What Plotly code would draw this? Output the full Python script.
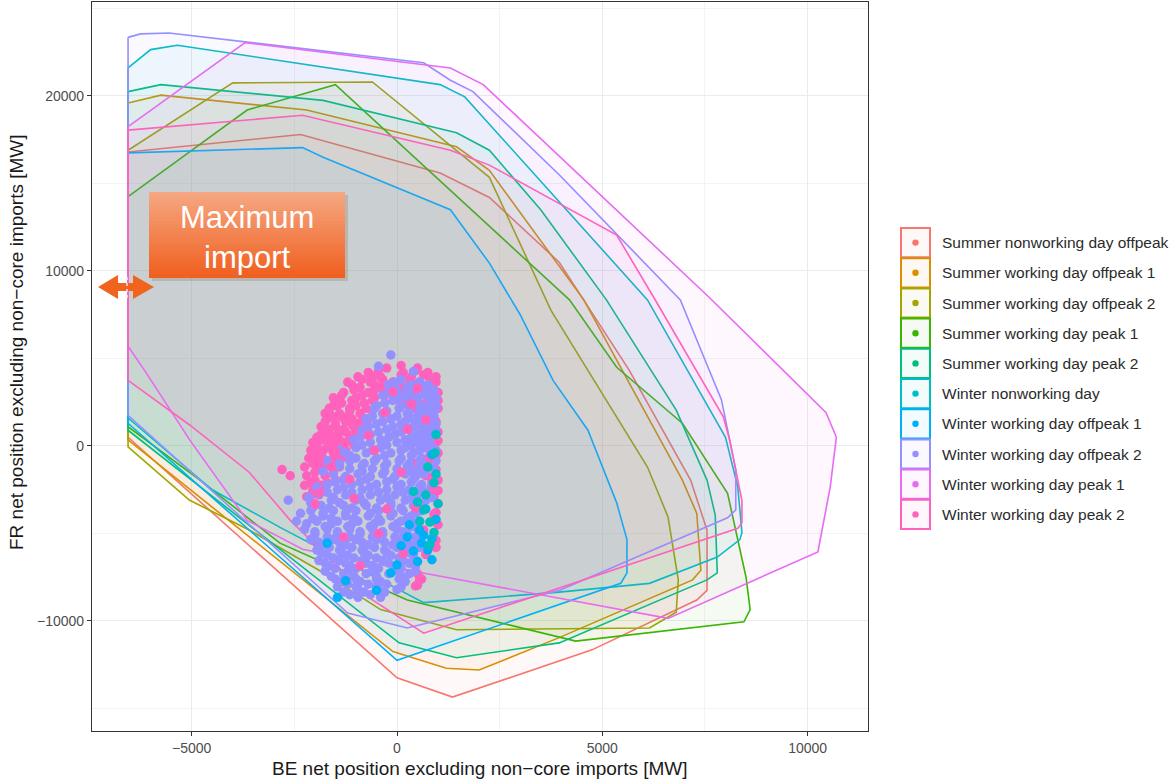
import plotly.graph_objects as go

# ---------------- data ----------------
categories = [
    "Summer nonworking day offpeak", "Summer working day offpeak 1", "Summer working day offpeak 2",
    "Summer working day peak 1", "Summer working day peak 2", "Winter nonworking day",
    "Winter working day offpeak 1", "Winter working day offpeak 2", "Winter working day peak 1",
    "Winter working day peak 2",
]
colors = ["#F8766D", "#D89000", "#A3A500", "#39B600", "#00BF7D",
          "#00BFC4", "#00B0F6", "#9590FF", "#E76BF3", "#FF62BC"]

# feasible-domain hulls (BE net position x, FR net position y) [MW]
sum_nw_off_x = [-6550, -2350, 1050, 2250, 3950, 5650, 7150, 7550, 7550, 7300, 4750, 1350, 0, -6550]
sum_nw_off_y = [16800, 17800, 15600, 14200, 10500, 4350, -1950, -4800, -8250, -8800, -11650, -14350, -13250, 500]

sum_w_off1_x = [-6550, -5750, -2200, 1450, 2250, 4550, 5350, 6950, 7300, 7400, 7200, 3950, 2000, 1200, -100, -6550]
sum_w_off1_y = [19600, 20050, 19200, 17100, 15750, 8350, 4900, -1950, -3850, -7100, -7650, -10950, -12800, -12700, -11750, 350]

sum_w_off2_x = [-6550, -4000, -600, 2250, 3750, 4950, 6100, 6600, 6850, 6800, 6150, 1450, -400, -1900, -3600, -5050, -6550]
sum_w_off2_y = [16900, 20750, 20800, 15350, 7750, 3200, -1200, -4050, -7650, -9500, -10400, -10500, -9350, -7100, -4800, -3100, -50]

sum_w_pk1_x = [-6550, -3650, -1500, 4200, 5350, 6950, 8050, 8500, 8600, 8450, 4350, 250, -2850, -4800, -6550]
sum_w_pk1_y = [14250, 19200, 20650, 8350, 4500, 1300, -2700, -7500, -9350, -10050, -11150, -8800, -5550, -1950, 1100]

sum_w_pk2_x = [-6550, -5750, -1800, 1450, 2250, 3500, 5100, 6800, 7550, 7750, 7800, 7550, 3950, 1450, 50, -6550]
sum_w_pk2_y = [20250, 20650, 19750, 17900, 16900, 13500, 8350, 2050, -1950, -3950, -7250, -7650, -11250, -12100, -11250, 900]

win_nw_x = [-6550, -6000, -5350, 1050, 1650, 6100, 8000, 8300, 8400, 8350, 7800, 6150, 3950, 650, -2850, -4500, -6550]
win_nw_y = [21600, 22650, 22900, 20650, 19950, 8350, 500, -2350, -4950, -5350, -6350, -7850, -8350, -8950, -4650, -2500, 1600]

win_w_off1_x = [-6550, -2300, -1800, 1300, 2250, 3000, 3800, 4650, 5350, 5600, 5600, 5450, 0, -6550]
win_w_off1_y = [16750, 17050, 16500, 13500, 10450, 7500, 3750, 900, -3250, -5350, -7250, -7850, -12250, 1300]

win_w_off2_x = [-6550, -6250, -5550, 650, 1300, 1850, 3950, 6900, 7900, 8250, 8250, 8050, 3950, 250, -1200, -6550]
win_w_off2_y = [23350, 23550, 23600, 21900, 20900, 20250, 15500, 8350, 2650, -1350, -3650, -4100, -8250, -10400, -9550, 1750]

win_w_pk1_x = [-6550, -3700, 1300, 2100, 7600, 10450, 10700, 10550, 10250, 6600, 500, -2300, -3650, -5050, -6100, -6550]
win_w_pk1_y = [18250, 23050, 21600, 20650, 8500, 1900, 500, -2350, -6050, -9850, -7200, -5900, -4250, 350, 4150, 5700]

win_w_pk2_x = [-6550, -2300, 1300, 2250, 5350, 6250, 7950, 8100, 8400, 8400, 8300, 650, -600, -2600, -3600, -5050, -6550]
win_w_pk2_y = [18050, 18900, 16900, 16050, 12050, 8500, 1650, 350, -3100, -4400, -4700, -10700, -8800, -4250, -1500, 1200, 3750]

hulls = [
    (sum_nw_off_x, sum_nw_off_y), (sum_w_off1_x, sum_w_off1_y), (sum_w_off2_x, sum_w_off2_y),
    (sum_w_pk1_x, sum_w_pk1_y), (sum_w_pk2_x, sum_w_pk2_y), (win_nw_x, win_nw_y),
    (win_w_off1_x, win_w_off1_y), (win_w_off2_x, win_w_off2_y), (win_w_pk1_x, win_w_pk1_y),
    (win_w_pk2_x, win_w_pk2_y),
]

# observed net positions (x, y) [MW]
pts_pk2_under = [
    (-250, 4450), (500, 4450), (100, 4600), (-450, 4300), (450, 4300),
    (-700, 4200), (150, 4200), (750, 4200), (-650, 4050), (100, 4050), (650, 4050),
    (-950, 3950), (-400, 3950), (350, 3950), (950, 3950),
    (-850, 3800), (-350, 3800), (300, 3800), (800, 3800),
    (-1200, 3650), (-650, 3650), (-100, 3650), (550, 3650), (950, 3650),
    (-1100, 3500), (-550, 3500), (50, 3500), (450, 3500), (850, 3500),
    (-900, 3350), (-400, 3350), (200, 3350), (700, 3350),
    (-1050, 3200), (-550, 3200), (100, 3200), (600, 3200),
    (-1300, 3050), (-700, 3050), (-250, 3050), (400, 3050), (1000, 3050),
    (-1350, 2900), (-850, 2900), (-300, 2900), (350, 2900), (800, 2900),
    (-1550, 2750), (-1000, 2750), (-550, 2750), (150, 2750), (950, 2750),
    (-1500, 2600), (-1100, 2600), (-600, 2600), (50, 2600), (500, 2600), (1000, 2600),
    (-1350, 2450), (-800, 2450), (250, 2450), (700, 2450),
    (-1550, 2300), (-1000, 2300), (-500, 2300), (300, 2300), (850, 2300),
    (-1650, 2150), (-1150, 2150), (-750, 2150), (450, 2150), (1000, 2150),
    (-1650, 2000), (-1150, 2000), (-600, 2000), (900, 2000),
    (-1750, 1850), (-1400, 1850), (-900, 1850), (650, 1850),
    (-1550, 1650), (-1350, 1650),
    (-1700, 1550), (-1100, 1550), (-700, 1550),
    (-1750, 1400), (-1250, 1400), (-850, 1400), (950, 1400),
    (-1500, 1250), (-1100, 1250), (-750, 1250), (800, 1250),
    (-1850, 1100), (-1500, 1100), (-1050, 1100), (600, 1100),
    (-1650, 950), (-1300, 950), (-950, 950),
    (-1800, 800), (-1250, 800), (1000, 800),
    (-1850, 650), (-1450, 650), (-1050, 650), (850, 650),
    (-1950, 500), (-1550, 500), (-1150, 500), (500, 500),
    (-1800, 350), (-1400, 350), (-1100, 350),
    (-2050, 200), (-1650, 200), (-1250, 200), (950, 200),
    (-1950, 50), (-1500, 50), (-1050, 50), (850, 50),
    (-1700, -100), (-1300, -100), (700, -100),
    (-2100, -250), (-1800, -250), (-1250, -250),
    (-2000, -400), (-1550, -400), (1000, -400),
    (-1900, -550), (-1500, -550), (950, -550),
    (-2150, -700), (-1800, -700), (-1350, -700), (850, -700),
    (-2000, -850), (-1600, -850), (600, -850),
    (-2050, -1000), (-1650, -1000), (400, -1000),
    (-2250, -1200), (-1800, -1200), (-1400, -1200),
    (-2800, -1350), (-1900, -1350), (950, -1350),
    (-2000, -1500), (-1550, -1500),
    (-2600, -1700), (-2200, -1700), (-1750, -1700), (700, -1700),
    (-2000, -1950), (-1500, -1950), (1000, -1950),
    (-2100, -2100), (-1700, -2100),
    (-2250, -2250), (-1850, -2250), (850, -2250),
    (-1900, -2400), (-2050, -2550), (550, -2550), (1000, -2550),
    (-2050, -2750), (-2200, -2900), (900, -2900), (1000, -3300), (-2050, -3500), (900, -3900),
    (1000, -4500), (-2050, -5400), (950, -5400), (700, -6200),
    (500, -7300), (550, -7650), (500, -7950),
]

pts_off2 = [
    (-150, 5200), (-450, 4550), (400, 4250), (100, 3800),
    (-200, 3500), (350, 3500), (750, 3500), (-50, 3650), (550, 3650),
    (0, 3200), (550, 3200), (900, 3200), (250, 3350), (700, 3350),
    (-350, 2900), (200, 2900), (700, 2900), (-200, 3050), (300, 3050), (750, 3050),
    (-100, 2600), (400, 2600), (850, 2600), (50, 2750), (500, 2750), (950, 2750),
    (-500, 2300), (100, 2300), (600, 2300), (950, 2300), (-300, 2450), (300, 2450), (800, 2450),
    (-250, 2000), (300, 2000), (750, 2000), (-550, 2150), (50, 2150), (550, 2150), (950, 2150),
    (-600, 1700), (0, 1700), (500, 1700), (900, 1700), (-350, 1850), (250, 1850), (700, 1850),
    (-350, 1400), (200, 1400), (650, 1400), (-750, 1550), (-150, 1550), (400, 1550), (850, 1550),
    (-700, 1100), (-100, 1100), (400, 1100), (850, 1100), (-500, 1250), (100, 1250), (550, 1250), (950, 1250),
    (-450, 800), (100, 800), (600, 800), (950, 800), (-850, 950), (-250, 950), (300, 950), (700, 950),
    (-900, 500), (-200, 500), (350, 500), (750, 500), (-650, 650), (-50, 650), (500, 650), (900, 650),
    (-650, 200), (0, 200), (500, 200), (900, 200), (-1050, 350), (-400, 350), (200, 350), (650, 350),
    (-1000, -100), (-400, -100), (200, -100), (650, -100), (-850, 50), (-250, 50), (350, 50), (800, 50),
    (-1250, -400), (-750, -400), (-150, -400), (400, -400), (850, -400),
    (-1400, -250), (-600, -250), (100, -250), (550, -250), (950, -250),
    (-1000, -700), (-500, -700), (100, -700), (600, -700),
    (-1150, -550), (-300, -550), (350, -550), (800, -550),
    (-1400, -1000), (-800, -1000), (-250, -1000), (300, -1000), (750, -1000),
    (-1700, -850), (-1150, -850), (-550, -850), (50, -850), (550, -850), (950, -850),
    (-1150, -1300), (-600, -1300), (0, -1300), (500, -1300), (900, -1300),
    (-1400, -1150), (-850, -1150), (-300, -1150), (250, -1150), (700, -1150),
    (-1550, -1600), (-950, -1600), (-350, -1600), (200, -1600), (650, -1600),
    (-1800, -1450), (-850, -1450), (-300, -1450), (300, -1450), (700, -1450),
    (-1300, -1900), (-750, -1900), (-100, -1900), (400, -1900), (850, -1900),
    (-1250, -1750), (-650, -1750), (-50, -1750), (450, -1750), (900, -1750),
    (-1700, -2200), (-1100, -2200), (-500, -2200), (100, -2200), (600, -2200),
    (-1500, -2050), (-900, -2050), (-250, -2050), (350, -2050), (850, -2050),
    (-1450, -2500), (-850, -2500), (-250, -2500), (300, -2500), (800, -2500),
    (-1950, -2350), (-1300, -2350), (-650, -2350), (0, -2350), (550, -2350),
    (-1900, -2800), (-1250, -2800), (-650, -2800), (-50, -2800), (500, -2800),
    (-1700, -2650), (-1100, -2650), (-450, -2650), (150, -2650), (700, -2650),
    (-2650, -3100), (-1600, -3100), (-1000, -3100), (-400, -3100), (200, -3100), (700, -3100),
    (-2150, -2950), (-1550, -2950), (-900, -2950), (-250, -2950), (350, -2950), (850, -2950),
    (-1850, -3400), (-1300, -3400), (-750, -3400), (-150, -3400), (400, -3400),
    (-2100, -3250), (-1400, -3250), (-800, -3250), (-150, -3250), (450, -3250),
    (-2100, -3700), (-1550, -3700), (-1000, -3700), (-450, -3700), (150, -3700), (600, -3700),
    (-1650, -3550), (-1100, -3550), (-500, -3550), (100, -3550), (650, -3550),
    (-1800, -4000), (-1250, -4000), (-700, -4000), (-150, -4000), (350, -4000),
    (-2350, -3850), (-1800, -3850), (-1250, -3850), (-650, -3850), (-100, -3850), (450, -3850),
    (-2450, -4300), (-1950, -4300), (-1450, -4300), (-950, -4300), (-400, -4300), (100, -4300), (550, -4300),
    (-2050, -4150), (-1600, -4150), (-1050, -4150), (-450, -4150), (250, -4150),
    (-1750, -4600), (-1200, -4600), (-650, -4600), (-100, -4600), (350, -4600),
    (-2200, -4450), (-1600, -4450), (-1100, -4450), (-550, -4450), (0, -4450), (400, -4450),
    (-2000, -4900), (-1450, -4900), (-900, -4900), (-350, -4900), (150, -4900),
    (-2250, -4750), (-1700, -4750), (-1150, -4750), (-600, -4750), (0, -4750), (500, -4750),
    (-1700, -5200), (-1150, -5200), (-600, -5200), (-50, -5200), (450, -5200),
    (-2000, -5050), (-1450, -5050), (-900, -5050), (-350, -5050), (250, -5050),
    (-1900, -5500), (-1400, -5500), (-850, -5500), (-300, -5500), (250, -5500),
    (-2100, -5350), (-1550, -5350), (-1000, -5350), (-500, -5350), (50, -5350), (550, -5350),
    (-1650, -5800), (-1100, -5800), (-550, -5800), (0, -5800), (550, -5800),
    (-1800, -5650), (-1250, -5650), (-700, -5650), (-100, -5650), (400, -5650),
    (-1850, -6100), (-1350, -6100), (-800, -6100), (-250, -6100), (300, -6100),
    (-1950, -5950), (-1400, -5950), (-850, -5950), (-300, -5950), (250, -5950),
    (-1550, -6400), (-1050, -6400), (-500, -6400), (50, -6400),
    (-1700, -6250), (-1200, -6250), (-700, -6250), (-150, -6250), (400, -6250),
    (-1750, -6700), (-1250, -6700), (-750, -6700), (-200, -6700), (300, -6700),
    (-1900, -6550), (-1400, -6550), (-850, -6550), (-350, -6550), (150, -6550),
    (-1500, -7000), (-1000, -7000), (-450, -7000), (100, -7000),
    (-1650, -6850), (-1150, -6850), (-600, -6850), (-50, -6850), (450, -6850),
    (-1300, -7300), (-750, -7300), (-200, -7300), (300, -7300),
    (-1750, -7150), (-1200, -7150), (-600, -7150), (0, -7150), (450, -7150),
    (-1500, -7600), (-1000, -7600), (-500, -7600), (50, -7600),
    (-1600, -7450), (-1050, -7450), (-500, -7450), (100, -7450),
    (-1200, -7900), (-700, -7900), (-250, -7900),
    (-1400, -7750), (-900, -7750), (-400, -7750), (200, -7750),
    (-950, -8200), (-450, -8200), (0, -8200),
    (-1450, -8050), (-1000, -8050), (-500, -8050), (100, -8050),
    (-1150, -8500), (-650, -8500), (-1300, -8350), (-800, -8350), (-300, -8350),
    (-950, -8650), (-400, -8650),
]

pts_pk2_over = [
    (-300, 1900), (250, 950), (-550, -250), (100, -1500), (-1050, -3000), (450, -3550),
    (-450, -5000), (150, -6150), (-900, -6850), (700, 1500), (-100, 3100), (800, -700),
    (900, -2500), (650, -4800), (950, -5800), (-1300, -5200), (350, 2400), (-700, 600),
    (-1600, -1200), (-1900, -2700), (950, -3800), (600, -7600), (450, -8000), (850, -1800),
    (1000, 300), (-1150, -1900), (-250, -3600), (-600, 3900), (500, 3300), (-1000, 1300),
    (-2000, -3300), (-1450, 2300), (-1250, 1650), (-1700, 600), (-1500, -300), (-1900, -900),
]

pts_off1 = [
    (850, -500), (300, -4500), (550, -4800), (600, -5550), (750, -5950), (850, -6500),
    (250, -5200), (650, -5100), (400, -6000), (850, -5300), (-1700, -5550), (-1450, -8650),
    (-500, -8250), (-150, -7250), (100, -5700), (950, -4200), (700, -3600), (-1250, -7700),
    (500, -6600), (0, -6800),
]

pts_win_nw = [
    (925, -400), (750, -1200), (900, -2100), (500, -3200), (650, -3650), (800, -4350),
    (900, -4950), (800, -5650), (950, -1600), (700, -2800), (1000, -3300), (400, -2600),
    (950, 650), (550, -4300),
]

point_layers = [  # (points, colour index) in drawing order
    (pts_pk2_under, 9), (pts_off2, 7), (pts_pk2_over, 9), (pts_off1, 6), (pts_win_nw, 5),
]

x_ticks_dtick = 5000
y_ticks_dtick = 10000
x_range = [-7428, 11470]
y_range = [-16286, 25371]

# ---------------- layout helpers ----------------
W, H = 1173, 781
PL, PR, PT, PB = 92, 868, 2, 731


def pxx(px):
    return (px - PL) / (PR - PL)


def pxy(py):
    return (PB - py) / (PB - PT)


def rgba(h, a):
    h = h.lstrip('#')
    return "rgba(%d,%d,%d,%s)" % (int(h[0:2], 16), int(h[2:4], 16), int(h[4:6], 16), a)


FONT = "Liberation Sans, Arial, sans-serif"

fig = go.Figure()

for name, col, (hx, hy) in zip(categories, colors, hulls):
    fig.add_trace(go.Scatter(
        x=list(hx) + [hx[0]], y=list(hy) + [hy[0]], mode="lines", fill="toself",
        fillcolor=rgba(col, 0.05), line=dict(color=col, width=1.6),
        name=name, showlegend=False, hoverinfo="skip"))

for pts, ci in point_layers:
    fig.add_trace(go.Scatter(
        x=[p[0] for p in pts], y=[p[1] for p in pts], mode="markers",
        marker=dict(color=colors[ci], size=9.5, line=dict(width=0)),
        name=categories[ci], showlegend=False))

shapes = []
annotations = []

# custom legend
for i, (name, col) in enumerate(zip(categories, colors)):
    top = 228 + 30.2 * i
    bot = top + 29.2
    cy = (top + bot) / 2
    shapes.append(dict(type="rect", xref="paper", yref="paper",
                       x0=pxx(901), x1=pxx(930), y0=pxy(bot), y1=pxy(top),
                       line=dict(color=col, width=2), fillcolor=rgba(col, 0.05)))
    shapes.append(dict(type="circle", xref="paper", yref="paper",
                       x0=pxx(912.3), x1=pxx(918.7), y0=pxy(cy + 3.2), y1=pxy(cy - 3.2),
                       line=dict(color=col, width=0), fillcolor=col))
    annotations.append(dict(xref="paper", yref="paper", x=pxx(940), y=pxy(cy),
                            xanchor="left", yanchor="middle", showarrow=False, text=name,
                            font=dict(family=FONT, size=15.5, color="#2b2b2b")))

# "Maximum import" callout box with vertical gradient
bx0, bx1, by0, by1 = 149, 345, 192, 278
shapes.append(dict(type="rect", xref="paper", yref="paper",
                   x0=pxx(bx0 + 3), x1=pxx(bx1 + 3), y0=pxy(by1 + 3), y1=pxy(by0 + 3),
                   line=dict(width=0), fillcolor="rgba(120,60,30,0.18)"))
n_strips = 24
c_top = (246, 166, 128)
c_bot = (240, 96, 32)
for k in range(n_strips):
    t = k / (n_strips - 1)
    c = tuple(int(round(c_top[j] + (c_bot[j] - c_top[j]) * t)) for j in range(3))
    ya = by0 + (by1 - by0) * k / n_strips
    yb = by0 + (by1 - by0) * (k + 1) / n_strips + 0.6
    shapes.append(dict(type="rect", xref="paper", yref="paper",
                       x0=pxx(bx0), x1=pxx(bx1), y0=pxy(min(yb, by1)), y1=pxy(ya),
                       line=dict(width=0), fillcolor="rgb(%d,%d,%d)" % c))
annotations.append(dict(xref="paper", yref="paper", x=pxx(247), y=pxy(237),
                        xanchor="center", yanchor="middle", showarrow=False,
                        text="Maximum<br>import",
                        font=dict(family=FONT, size=31, color="white")))

# double-headed arrow at the left boundary
arrow_px = [(98, 287), (118, 275), (118, 283), (133, 283), (133, 275), (154, 287),
            (133, 299), (133, 291), (118, 291), (118, 299)]
path = "M " + " L ".join("%.5f,%.5f" % (pxx(a), pxy(b)) for a, b in arrow_px) + " Z"
shapes.append(dict(type="path", xref="paper", yref="paper", path=path,
                   fillcolor="#F0641E", line=dict(width=0)))
shapes.append(dict(type="line", xref="paper", yref="paper", x0=pxx(127), x1=pxx(127),
                   y0=pxy(298), y1=pxy(276), line=dict(color="rgba(255,235,245,0.9)", width=1.5, dash="dot")))

# axis titles
annotations.append(dict(xref="paper", yref="paper", x=0.5, y=pxy(768), xanchor="center",
                        yanchor="middle", showarrow=False,
                        text="BE net position excluding non\u2212core imports [MW]",
                        font=dict(family=FONT, size=19, color="#1a1a1a")))
annotations.append(dict(xref="paper", yref="paper", x=pxx(17), y=pxy(342), xanchor="center",
                        yanchor="middle", showarrow=False, textangle=-90,
                        text="FR net position excluding non\u2212core imports [MW]",
                        font=dict(family=FONT, size=19, color="#1a1a1a")))

axis_common = dict(
    showgrid=True, gridcolor="#ebebeb", gridwidth=1.2, zeroline=False,
    showline=True, mirror=True, linecolor="#333333", linewidth=1.1,
    ticks="outside", ticklen=4, tickcolor="#333333", tickwidth=1,
    tickfont=dict(family=FONT, size=14, color="#4d4d4d"), tickformat="d",
)

fig.update_layout(
    width=W, height=H, autosize=False,
    margin=dict(l=PL, r=W - PR, t=PT, b=H - PB, pad=0),
    paper_bgcolor="white", plot_bgcolor="white",
    showlegend=False,
    xaxis=dict(range=x_range, tick0=0, dtick=x_ticks_dtick,
               minor=dict(tick0=0, dtick=x_ticks_dtick / 2, showgrid=True,
                          gridcolor="#f3f3f3", gridwidth=0.7),
               **axis_common),
    yaxis=dict(range=y_range, tick0=0, dtick=y_ticks_dtick,
               minor=dict(tick0=0, dtick=y_ticks_dtick / 2, showgrid=True,
                          gridcolor="#f3f3f3", gridwidth=0.7),
               **axis_common),
    shapes=shapes, annotations=annotations,
)

fig.write_html("out.html", config={"displayModeBar": False},
               post_script="document.body.style.margin='0px';")
